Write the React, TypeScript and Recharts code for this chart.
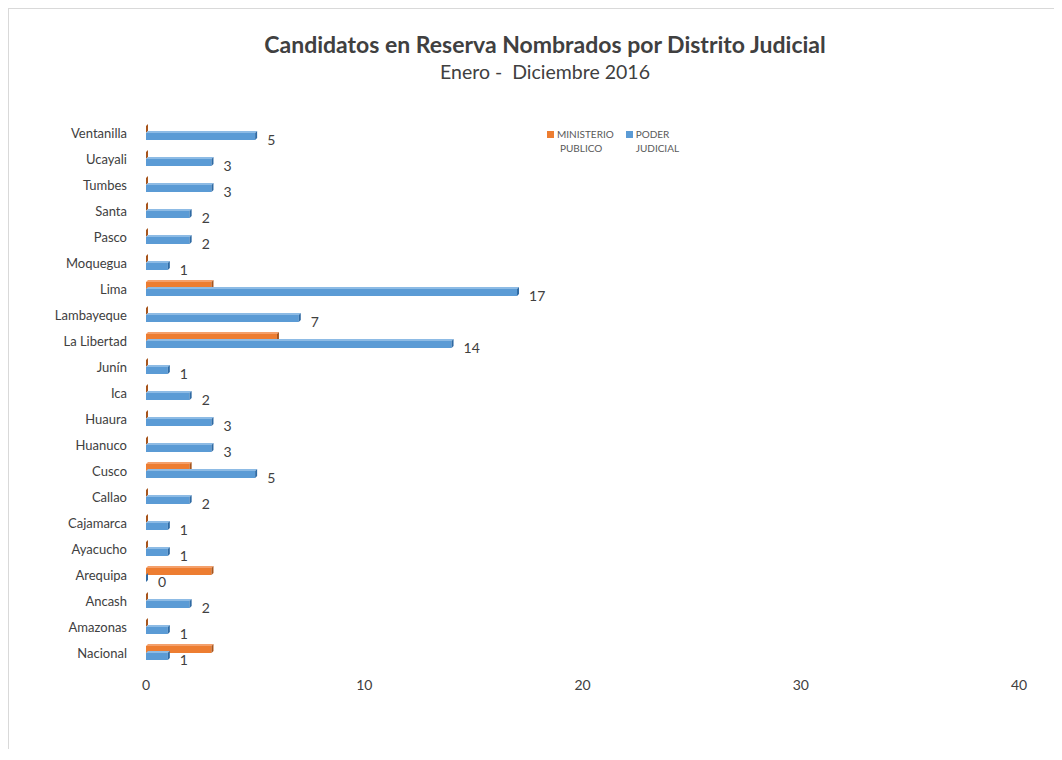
import React from "react";
import { BarChart, Bar, XAxis, YAxis, LabelList } from "recharts";

const categories = [
  "Ventanilla", "Ucayali", "Tumbes", "Santa", "Pasco", "Moquegua", "Lima",
  "Lambayeque", "La Libertad", "Junín", "Ica", "Huaura", "Huanuco", "Cusco",
  "Callao", "Cajamarca", "Ayacucho", "Arequipa", "Ancash", "Amazonas", "Nacional",
];
const ministerioPublico = [0, 0, 0, 0, 0, 0, 3, 0, 6, 0, 0, 0, 0, 2, 0, 0, 0, 3, 0, 0, 3];
const poderJudicial = [5, 3, 3, 2, 2, 1, 17, 7, 14, 1, 2, 3, 3, 5, 2, 1, 1, 0, 2, 1, 1];
const xTicks = [0, 10, 20, 30, 40];

const data = categories.map((name, i) => ({
  name,
  mp: ministerioPublico[i],
  pj: poderJudicial[i],
}));

const FONT = "Lato, 'Open Sans', sans-serif";

const make3D = (front: string, top: string, side: string) => (props: any) => {
  const { x, y, width, height } = props;
  const w = Math.max(0, width || 0);
  const d = 2;
  return (
    <g>
      <rect x={x} y={y} width={w} height={height} fill={front} />
      <polygon
        points={`${x},${y} ${x + d},${y - d} ${x + w + d},${y - d} ${x + w},${y}`}
        fill={top}
      />
      <polygon
        points={`${x + w},${y} ${x + w + d},${y - d} ${x + w + d},${y + height - d} ${x + w},${y + height}`}
        fill={side}
      />
    </g>
  );
};

const orangeShape = make3D("#ED7D31", "#F4A06B", "#A8551C");
const blueShape = make3D("#5B9BD5", "#8DBBE5", "#2F6AA3");

const renderLabel = (props: any) => {
  const { x, y, width, height, value } = props;
  return (
    <text
      x={x + width + 12}
      y={y + height / 2 + 3}
      fill="#404040"
      fontSize={14}
      fontFamily={FONT}
      dominantBaseline="central"
    >
      {value}
    </text>
  );
};

export default function App() {
  return (
    <div
      style={{
        position: "relative",
        width: 1053,
        height: 740,
        borderTop: "1px solid #d9d9d9",
        borderLeft: "1px solid #d9d9d9",
        overflow: "hidden",
        background: "#fff",
        fontFamily: FONT,
      }}
    >
      <div
        style={{
          position: "absolute",
          left: 0,
          width: 1072,
          top: 21,
          textAlign: "center",
          fontSize: 23,
          fontWeight: 700,
          color: "#404040",
        }}
      >
        Candidatos en Reserva Nombrados por Distrito Judicial
      </div>
      <div
        style={{
          position: "absolute",
          left: 0,
          width: 1072,
          top: 51,
          textAlign: "center",
          fontSize: 19.5,
          color: "#404040",
          whiteSpace: "pre",
        }}
      >
        {"Enero -  Diciembre 2016"}
      </div>
      <div
        style={{
          position: "absolute",
          left: 538,
          top: 118,
          fontSize: 10,
          color: "#595959",
          display: "flex",
          gap: 12,
          lineHeight: "14px",
        }}
      >
        <div style={{ display: "flex" }}>
          <div style={{ width: 7, height: 7, background: "#ED7D31", marginTop: 4, marginRight: 3 }} />
          <div>
            MINISTERIO
            <br />
            <span style={{ paddingLeft: 3 }}>PUBLICO</span>
          </div>
        </div>
        <div style={{ display: "flex" }}>
          <div style={{ width: 7, height: 7, background: "#5B9BD5", marginTop: 4, marginRight: 3 }} />
          <div>
            PODER
            <br />
            JUDICIAL
          </div>
        </div>
      </div>
      <div style={{ position: "absolute", left: 0, top: 0 }}>
        <BarChart
          width={1050}
          height={740}
          data={data}
          layout="vertical"
          margin={{ top: 111, right: 40, bottom: 43, left: 0 }}
          barSize={7}
          barGap={0}
        >
          <XAxis
            type="number"
            domain={[0, 40]}
            ticks={xTicks}
            axisLine={false}
            tickLine={false}
            tickSize={0}
            tickMargin={14}
            height={40}
            tick={{ fill: "#404040", fontSize: 14, fontFamily: FONT }}
          />
          <YAxis
            type="category"
            dataKey="name"
            width={137}
            axisLine={false}
            tickLine={false}
            tickSize={0}
            tickMargin={19}
            interval={0}
            tick={{ fill: "#404040", fontSize: 13, fontFamily: FONT }}
          />
          <Bar dataKey="mp" name="MINISTERIO PUBLICO" shape={orangeShape} isAnimationActive={false} />
          <Bar dataKey="pj" name="PODER JUDICIAL" shape={blueShape} isAnimationActive={false}>
            <LabelList dataKey="pj" content={renderLabel} />
          </Bar>
        </BarChart>
      </div>
    </div>
  );
}
